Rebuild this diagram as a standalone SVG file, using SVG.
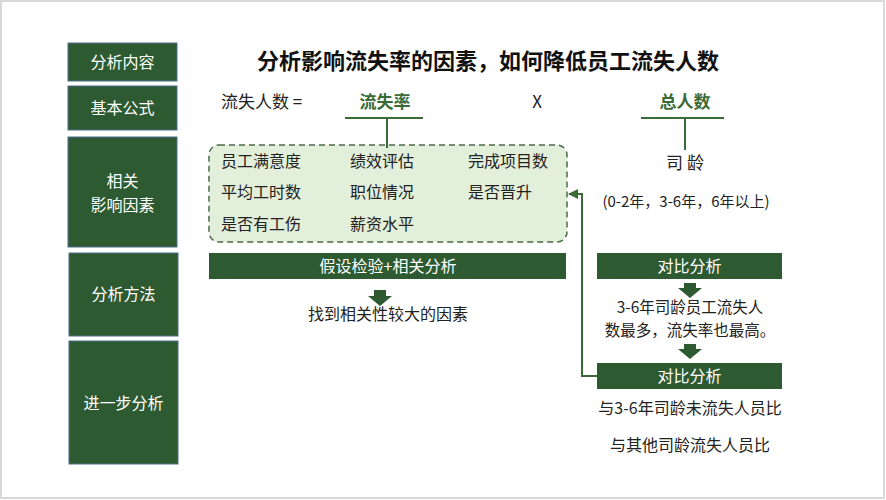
<svg xmlns="http://www.w3.org/2000/svg" width="886" height="500" viewBox="0 0 886 500">
<defs>
<style>
text{font-family:"Noto Sans CJK SC","Liberation Sans",sans-serif;}
.side{fill:#2d5a30;stroke:#4f6f8f;stroke-width:1;}
.sidet{fill:#ffffff;font-size:16px;text-anchor:middle;}
.bar{fill:#2d5a30;}
.bart{fill:#ffffff;font-size:16px;text-anchor:middle;}
.t{fill:#222222;font-size:16px;}
.tc{fill:#222222;font-size:16px;text-anchor:middle;}
.g{fill:#3a6a35;font-size:17px;font-weight:bold;text-anchor:middle;}
.ln{stroke:#3a6a35;stroke-width:2;fill:none;}
.blk{fill:#2d5a30;}
</style>
<marker id="ah" viewBox="0 0 10 10" refX="9" refY="5" markerWidth="5" markerHeight="5" orient="auto">
<path d="M0,0 L10,5 L0,10 z" fill="#3a6a35"/>
</marker>
</defs>
<rect x="1" y="1" width="883" height="497" fill="#ffffff" stroke="#d9d9d9" stroke-width="2"/>

<g id="side-content"><rect class="side" x="68" y="43" width="109" height="38"/><text class="sidet" x="122.5" y="68">分析内容</text></g>
<g id="side-formula"><rect class="side" x="68" y="86" width="109" height="44"/><text class="sidet" x="122.5" y="114">基本公式</text></g>
<g id="side-factors"><rect class="side" x="68" y="137" width="109" height="110"/><text class="sidet" x="122.5" y="187">相关</text><text class="sidet" x="122.5" y="211">影响因素</text></g>
<g id="side-method"><rect class="side" x="69" y="253" width="109" height="83"/><text class="sidet" x="123.5" y="300">分析方法</text></g>
<g id="side-further"><rect class="side" x="69" y="341" width="109" height="123"/><text class="sidet" x="123.5" y="409">进一步分析</text></g>

<g id="title"><text x="488" y="69" font-size="22" font-weight="bold" fill="#111111" text-anchor="middle">分析影响流失率的因素，如何降低员工流失人数</text></g>

<g id="formula">
<text x="221" y="108" font-size="17" fill="#222222">流失人数 =</text>
<text class="g" x="385" y="108">流失率</text>
<text x="537" y="108" font-size="17" fill="#222222" text-anchor="middle">X</text>
<text class="g" x="685" y="108">总人数</text>
</g>

<g id="factors">
<rect x="209" y="145" width="358" height="97" rx="10" fill="#e2efda" stroke="#4a6a4a" stroke-width="1.5" stroke-dasharray="6,4"/>
<text class="t" x="221" y="167">员工满意度</text>
<text class="t" x="350" y="167">绩效评估</text>
<text class="t" x="468" y="167">完成项目数</text>
<text class="t" x="221" y="198">平均工时数</text>
<text class="t" x="350" y="198">职位情况</text>
<text class="t" x="468" y="198">是否晋升</text>
<text class="t" x="221" y="230">是否有工伤</text>
<text class="t" x="350" y="230">薪资水平</text>
</g>

<g id="tenure">
<text x="685" y="169" font-size="17" fill="#222222" text-anchor="middle">司 龄</text>
<text x="686" y="207" font-size="15" fill="#222222" text-anchor="middle">(0-2年，3-6年，6年以上)</text>
</g>

<g id="method">
<rect class="bar" x="209" y="253" width="357" height="26"/>
<text class="bart" x="388" y="272">假设检验+相关分析</text>
<path class="blk" d="M374,290 h12 v6 h6 l-12,10 l-12,-10 h6 z"/>
<text class="tc" x="388" y="320">找到相关性较大的因素</text>
</g>

<g id="compare1">
<rect class="bar" x="597" y="253" width="185" height="26"/>
<text class="bart" x="689.5" y="272">对比分析</text>
<path class="blk" d="M684,283 h12 v5 h6 l-12,10 l-12,-10 h6 z"/>
<text x="690" y="313" font-size="15.5" fill="#222222" text-anchor="middle">3-6年司龄员工流失人</text>
<text x="690" y="336" font-size="15.5" fill="#222222" text-anchor="middle">数最多，流失率也最高。</text>
<path class="blk" d="M684,344 h12 v5 h6 l-12,10 l-12,-10 h6 z"/>
</g>

<g id="compare2">
<rect class="bar" x="597" y="363" width="185" height="26"/>
<text class="bart" x="689.5" y="382">对比分析</text>
<text class="tc" x="690" y="414">与3-6年司龄未流失人员比</text>
<text class="tc" x="690" y="451">与其他司龄流失人员比</text>
</g>

<g id="connectors">
<line class="ln" x1="345" y1="118" x2="423" y2="118"/>
<line class="ln" x1="387" y1="118" x2="387" y2="148"/>
<line class="ln" x1="641" y1="118" x2="724" y2="118"/>
<line class="ln" x1="685" y1="118" x2="685" y2="150"/>
<polyline class="ln" stroke-width="1.5" points="597,376 582,376 582,194 569,194" marker-end="url(#ah)"/>
</g>
</svg>
